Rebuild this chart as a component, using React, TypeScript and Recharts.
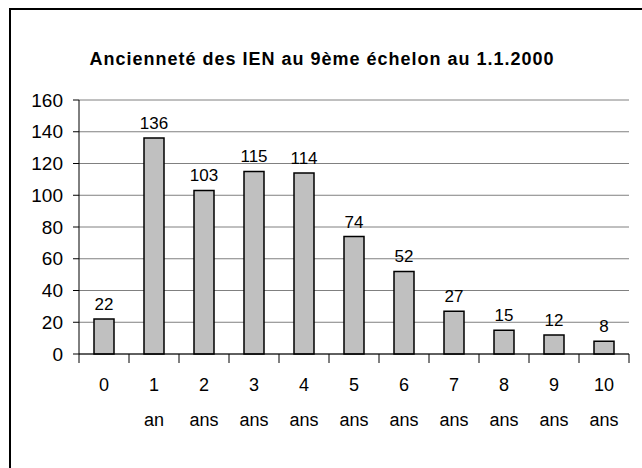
import React from 'react';
import { BarChart, Bar, XAxis, YAxis, CartesianGrid, LabelList } from 'recharts';

const numbers = ['0', '1', '2', '3', '4', '5', '6', '7', '8', '9', '10'];
const units = ['', 'an', 'ans', 'ans', 'ans', 'ans', 'ans', 'ans', 'ans', 'ans', 'ans'];
const values = [22, 136, 103, 115, 114, 74, 52, 27, 15, 12, 8];
const yTicks = [0, 20, 40, 60, 80, 100, 120, 140, 160];
const title = 'Ancienneté des IEN au 9ème échelon au 1.1.2000';

const data = numbers.map((n, i) => ({ cat: n, unit: units[i], value: values[i] }));

const CHART_W = 642;
const CHART_H = 468;
const MARGIN = { top: 100, right: 13, bottom: 0, left: 0 };
const Y_W = 79;
const X_H = 114;
const BAND = (CHART_W - MARGIN.right - MARGIN.left - Y_W) / numbers.length;
const FONT = '"Liberation Sans", Arial, sans-serif';

const CatTick = (props: any) => {
  const { x, y, index } = props;
  const i = index as number;
  const half = BAND / 2;
  return (
    <g>
      <line x1={x - half} y1={y} x2={x - half} y2={y + 9} stroke="#000" strokeWidth={1} />
      {i === numbers.length - 1 && (
        <line x1={x + half} y1={y} x2={x + half} y2={y + 9} stroke="#000" strokeWidth={1} />
      )}
      <text x={x} y={y + 37} textAnchor="middle" fontSize={18} fontFamily={FONT} fill="#000">
        {numbers[i]}
      </text>
      <text x={x} y={y + 72} textAnchor="middle" fontSize={18} fontFamily={FONT} fill="#000">
        {units[i]}
      </text>
    </g>
  );
};

export default function App() {
  return (
    <div style={{ position: 'absolute', left: 0, top: 0, width: CHART_W, height: CHART_H, overflow: 'hidden', background: '#fff' }}>
      <div style={{ position: 'absolute', left: 9, top: 8, width: 800, height: 800, borderLeft: '2px solid #000', borderTop: '2px solid #000' }} />
      <div style={{ position: 'absolute', left: 0, top: 50, width: 644, textAlign: 'center', fontFamily: FONT, fontWeight: 'bold', fontSize: 18, letterSpacing: 1, lineHeight: '18px', color: '#000' }}>
        {title}
      </div>
      <div style={{ position: 'absolute', left: 0, top: 0 }}>
        <BarChart width={CHART_W} height={CHART_H} data={data} margin={MARGIN} barCategoryGap={0}>
          <CartesianGrid vertical={false} stroke="#808080" strokeWidth={1} />
          <XAxis
            dataKey="cat"
            height={X_H}
            axisLine={{ stroke: '#000', strokeWidth: 1 }}
            tickLine={false}
            tickSize={0}
            tickMargin={0}
            interval={0}
            tick={<CatTick />}
          />
          <YAxis
            width={Y_W}
            domain={[0, 160]}
            ticks={yTicks}
            interval={0}
            tickSize={6}
            tickMargin={10}
            axisLine={{ stroke: '#000', strokeWidth: 1 }}
            tickLine={{ stroke: '#000', strokeWidth: 1 }}
            tick={{ fontSize: 19, fontFamily: FONT, fill: '#000' }}
          />
          <YAxis
            yAxisId="right"
            orientation="right"
            width={0}
            domain={[0, 160]}
            tick={false}
            tickLine={false}
            axisLine={{ stroke: '#808080', strokeWidth: 1.5 }}
          />
          <Bar dataKey="value" barSize={20} fill="#c0c0c0" stroke="#000" strokeWidth={1.5} isAnimationActive={false}>
            <LabelList dataKey="value" position="top" offset={9} fontSize={17} fontFamily={FONT} fill="#000" />
          </Bar>
        </BarChart>
      </div>
    </div>
  );
}
